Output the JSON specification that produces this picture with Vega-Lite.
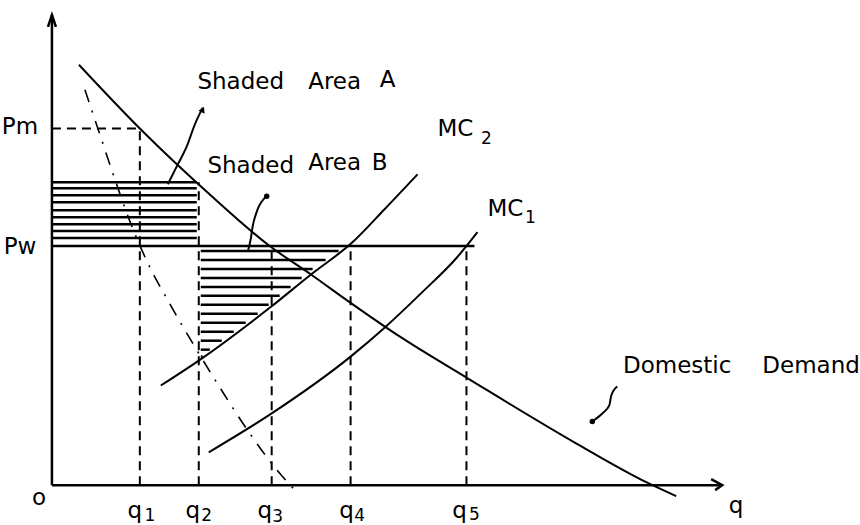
{
  "$schema": "https://vega.github.io/schema/vega-lite/v6.json",
  "width": 860,
  "height": 525,
  "padding": 0,
  "autosize": {"type": "fit", "contains": "padding"},
  "background": "white",
  "config": {"view": {"stroke": null}},
  "datasets": {
    "curves": [
      {"s": "Demand", "o": 1, "q": 27, "p": 422},
      {"s": "Demand", "o": 2, "q": 88, "p": 358},
      {"s": "Demand", "o": 3, "q": 160, "p": 290},
      {"s": "Demand", "o": 4, "q": 218, "p": 240},
      {"s": "Demand", "o": 5, "q": 260, "p": 211},
      {"s": "Demand", "o": 6, "q": 299, "p": 183},
      {"s": "Demand", "o": 7, "q": 350, "p": 148},
      {"s": "Demand", "o": 8, "q": 415, "p": 108},
      {"s": "Demand", "o": 9, "q": 523, "p": 43},
      {"s": "Demand", "o": 10, "q": 595, "p": 3},
      {"s": "Demand", "o": 11, "q": 625, "p": -11},
      {"s": "MC2", "o": 1, "q": 109, "p": 100},
      {"s": "MC2", "o": 2, "q": 147, "p": 125},
      {"s": "MC2", "o": 3, "q": 218, "p": 178},
      {"s": "MC2", "o": 4, "q": 260, "p": 212},
      {"s": "MC2", "o": 5, "q": 300, "p": 243},
      {"s": "MC2", "o": 6, "q": 333, "p": 277},
      {"s": "MC2", "o": 7, "q": 366, "p": 312},
      {"s": "MC1", "o": 1, "q": 157, "p": 33},
      {"s": "MC1", "o": 2, "q": 220, "p": 72},
      {"s": "MC1", "o": 3, "q": 299, "p": 129},
      {"s": "MC1", "o": 4, "q": 333, "p": 158},
      {"s": "MC1", "o": 5, "q": 370, "p": 193},
      {"s": "MC1", "o": 6, "q": 405, "p": 228},
      {"s": "MC1", "o": 7, "q": 426, "p": 254},
      {"s": "arrA", "o": 1, "q": 116, "p": 302},
      {"s": "arrA", "o": 2, "q": 126, "p": 322},
      {"s": "arrA", "o": 3, "q": 135, "p": 340},
      {"s": "arrA", "o": 4, "q": 143, "p": 362},
      {"s": "arrA", "o": 5, "q": 151, "p": 379},
      {"s": "arrB", "o": 1, "q": 196, "p": 234},
      {"s": "arrB", "o": 2, "q": 199, "p": 247},
      {"s": "arrB", "o": 3, "q": 201, "p": 260},
      {"s": "arrB", "o": 4, "q": 206, "p": 277},
      {"s": "arrB", "o": 5, "q": 215, "p": 290},
      {"s": "arrD", "o": 1, "q": 541, "p": 64},
      {"s": "arrD", "o": 2, "q": 551, "p": 72},
      {"s": "arrD", "o": 3, "q": 558, "p": 80},
      {"s": "arrD", "o": 4, "q": 560, "p": 90},
      {"s": "arrD", "o": 5, "q": 566, "p": 99}
    ],
    "dashcurve": [
      {"o": 1, "q": 33, "p": 397},
      {"o": 2, "q": 48, "p": 352},
      {"o": 3, "q": 63, "p": 307},
      {"o": 4, "q": 78, "p": 265},
      {"o": 5, "q": 95, "p": 225},
      {"o": 6, "q": 118, "p": 182},
      {"o": 7, "q": 143, "p": 139},
      {"o": 8, "q": 170, "p": 95},
      {"o": 9, "q": 198, "p": 52},
      {"o": 10, "q": 223, "p": 18},
      {"o": 11, "q": 246, "p": -8}
    ],
    "chevron": [
      {"s": "xa", "o": 1, "q": 660, "p": 6},
      {"s": "xa", "o": 2, "q": 671, "p": 0},
      {"s": "xa", "o": 3, "q": 664, "p": -5},
      {"s": "ya", "o": 1, "q": -4, "p": 460},
      {"s": "ya", "o": 2, "q": 0, "p": 472},
      {"s": "ya", "o": 3, "q": 4, "p": 460}
    ],
    "solidRules": [
      {"q": 0, "q2": 0, "p": 0, "p2": 472},
      {"q": 0, "q2": 671, "p": 0, "p2": 0},
      {"q": 0, "q2": 423, "p": 240, "p2": 240}
    ],
    "dashRules": [
      {"q": 0, "q2": 88, "p": 358, "p2": 358},
      {"q": 88, "q2": 88, "p": 0, "p2": 358},
      {"q": 147, "q2": 147, "p": 0, "p2": 304},
      {"q": 220, "q2": 220, "p": 0, "p2": 240},
      {"q": 299, "q2": 299, "p": 0, "p2": 240},
      {"q": 415, "q2": 415, "p": 0, "p2": 240}
    ],
    "hatch": [
      {"q": 0, "q2": 145, "p": 304},
      {"q": 0, "q2": 145, "p": 298},
      {"q": 0, "q2": 145, "p": 291},
      {"q": 0, "q2": 145, "p": 284},
      {"q": 0, "q2": 145, "p": 276},
      {"q": 0, "q2": 145, "p": 269},
      {"q": 0, "q2": 145, "p": 262},
      {"q": 0, "q2": 145, "p": 255},
      {"q": 0, "q2": 145, "p": 248},
      {"q": 149, "q2": 287, "p": 235},
      {"q": 149, "q2": 274, "p": 226},
      {"q": 149, "q2": 261, "p": 217},
      {"q": 149, "q2": 250, "p": 208},
      {"q": 149, "q2": 239, "p": 199},
      {"q": 149, "q2": 228, "p": 190},
      {"q": 149, "q2": 217, "p": 181},
      {"q": 149, "q2": 206, "p": 172},
      {"q": 149, "q2": 194, "p": 163},
      {"q": 149, "q2": 182, "p": 154},
      {"q": 149, "q2": 170, "p": 145},
      {"q": 149, "q2": 158, "p": 136},
      {"q": 149, "q2": 151, "p": 129}
    ],
    "labels": [
      {"t": "Pm", "q": -32, "p": 360},
      {"t": "Pw", "q": -32, "p": 239},
      {"t": "o", "q": -13, "p": -13},
      {"t": "q", "q": 685, "p": -21},
      {"t": "Shaded", "q": 189, "p": 405},
      {"t": "Area", "q": 283, "p": 405},
      {"t": "A", "q": 336, "p": 407},
      {"t": "Shaded", "q": 199, "p": 320},
      {"t": "Area", "q": 283, "p": 323},
      {"t": "B", "q": 328, "p": 323},
      {"t": "MC", "q": 404, "p": 358},
      {"t": "MC", "q": 454, "p": 277},
      {"t": "Domestic", "q": 626, "p": 120},
      {"t": "Demand", "q": 760, "p": 120},
      {"t": "q", "q": 83, "p": -26},
      {"t": "q", "q": 141, "p": -26},
      {"t": "q", "q": 213, "p": -26},
      {"t": "q", "q": 295, "p": -26},
      {"t": "q", "q": 408, "p": -26}
    ],
    "subs": [
      {"t": "2", "q": 435, "p": 347},
      {"t": "1", "q": 479, "p": 268},
      {"t": "1", "q": 98, "p": -31},
      {"t": "2", "q": 155, "p": -31},
      {"t": "3", "q": 226, "p": -32},
      {"t": "4", "q": 308, "p": -31},
      {"t": "5", "q": 423, "p": -30}
    ],
    "dots": [
      {"q": 215, "p": 290},
      {"q": 541, "p": 64}
    ],
    "tips": [
      {"q": 151, "p": 377}
    ]
  },
  "encoding": {
    "x": {"field": "q", "type": "quantitative", "scale": {"domain": [-52, 808], "nice": false, "zero": false}, "axis": null},
    "y": {"field": "p", "type": "quantitative", "scale": {"domain": [-38, 487], "nice": false, "zero": false}, "axis": null}
  },
  "layer": [
    {
      "data": {"name": "hatch"},
      "mark": {"type": "rule", "color": "black", "strokeWidth": 2.5},
      "encoding": {"x2": {"field": "q2"}}
    },
    {
      "data": {"name": "solidRules"},
      "mark": {"type": "rule", "color": "black", "strokeWidth": 2.5},
      "encoding": {"x2": {"field": "q2"}, "y2": {"field": "p2"}}
    },
    {
      "data": {"name": "dashRules"},
      "mark": {"type": "rule", "color": "black", "strokeWidth": 2, "strokeDash": [9, 6]},
      "encoding": {"x2": {"field": "q2"}, "y2": {"field": "p2"}}
    },
    {
      "data": {"name": "curves"},
      "mark": {"type": "line", "color": "black", "strokeWidth": 2, "interpolate": "monotone"},
      "encoding": {"detail": {"field": "s"}, "order": {"field": "o"}}
    },
    {
      "data": {"name": "dashcurve"},
      "mark": {"type": "line", "color": "black", "strokeWidth": 1.6, "strokeDash": [13, 9, 2, 9], "interpolate": "monotone"},
      "encoding": {"order": {"field": "o"}}
    },
    {
      "data": {"name": "chevron"},
      "mark": {"type": "line", "color": "black", "strokeWidth": 2.5},
      "encoding": {"detail": {"field": "s"}, "order": {"field": "o"}}
    },
    {
      "data": {"name": "dots"},
      "mark": {"type": "point", "shape": "circle", "filled": true, "color": "black", "size": 30, "opacity": 1}
    },
    {
      "data": {"name": "tips"},
      "mark": {"type": "point", "shape": "triangle-up", "filled": true, "color": "black", "size": 45, "angle": 25, "opacity": 1}
    },
    {
      "data": {"name": "labels"},
      "mark": {"type": "text", "font": "DejaVu Sans", "fontSize": 23, "color": "black", "align": "center", "baseline": "middle"},
      "encoding": {"text": {"field": "t"}}
    },
    {
      "data": {"name": "subs"},
      "mark": {"type": "text", "font": "DejaVu Sans", "fontSize": 17, "color": "black", "align": "center", "baseline": "middle"},
      "encoding": {"text": {"field": "t"}}
    }
  ]
}
